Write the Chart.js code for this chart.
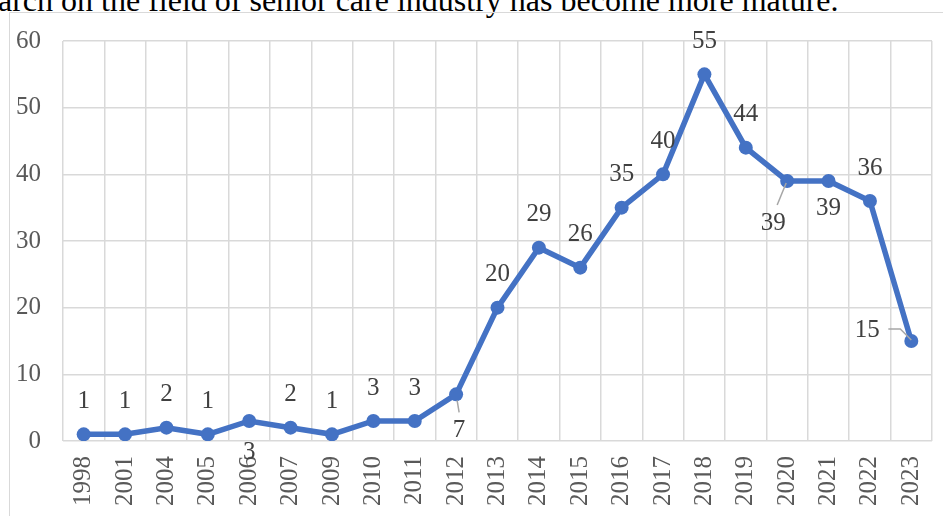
<!DOCTYPE html>
<html>
<head>
<meta charset="utf-8">
<script src="https://cdn.jsdelivr.net/npm/chart.js@4/dist/chart.umd.min.js"></script>
<style>
  html, body { margin: 0; padding: 0; background: #fff; overflow: hidden; }
  body { width: 943px; height: 516px; position: relative; }
  .caption {
    position: absolute; left: -2px; top: -18px; white-space: nowrap; line-height: 32px;
    font: 32px "Liberation Serif", "Times New Roman", serif; color: #000;
  }
  .frame {
    position: absolute; left: 9px; top: 12px; width: 960px; height: 540px;
    border: 1px solid #d9d9d9; box-sizing: border-box;
  }
  #wrap { position: absolute; left: 0; top: 0; width: 943px; height: 516px; }
</style>
</head>
<body>
<div class="caption">arch on the field of senior care industry has become more mature.</div>
<div class="frame"></div>
<div id="wrap"><canvas id="trend"></canvas></div>
<script>
  // Publications per year
  const YEARS = ['1998', '2001', '2004', '2005', '2006', '2007', '2009', '2010', '2011', '2012', '2013',
    '2014', '2015', '2016', '2017', '2018', '2019', '2020', '2021', '2022', '2023'];
  const COUNTS = [1, 1, 2, 1, 3, 2, 1, 3, 3, 7, 20, 29, 26, 35, 40, 55, 44, 39, 39, 36, 15];
  const Y_TICKS = [0, 10, 20, 30, 40, 50, 60];

  const BLUE = '#4472c4';
  const GRID = '#d9d9d9';
  const SERIF = '"Liberation Serif", "Times New Roman", serif';

  // label placement tweaks (dx, dy from the marker), default is above
  const LABEL_POS = {
    '2006': [0, 31],
    '2012': [3, 36],
    '2020': [-14, 42],
    '2021': [0, 27],
    '2023': [-44, -11],
  };
  // leader lines, as offsets from the marker
  const LEADERS = {
    '2012': [[1, 6], [3, 18]],
    '2020': [[-1, 2], [-10, 24]],
    '2023': [[-23, -12], [-11, -12], [0, -1]],
  };

  const valueLabels = {
    id: 'valueLabels',
    afterDatasetsDraw(chart) {
      const ctx = chart.ctx;
      const meta = chart.getDatasetMeta(0);
      ctx.save();
      meta.data.forEach((pt, i) => {
        const year = YEARS[i];
        const lead = LEADERS[year];
        if (lead) {
          ctx.beginPath();
          ctx.strokeStyle = '#a6a6a6';
          ctx.lineWidth = 1.5;
          lead.forEach(([dx, dy], k) => {
            if (k === 0) ctx.moveTo(pt.x + dx, pt.y + dy);
            else ctx.lineTo(pt.x + dx, pt.y + dy);
          });
          ctx.stroke();
        }
        const [dx, dy] = LABEL_POS[year] || [0, -33];
        ctx.font = '25px ' + SERIF;
        ctx.fillStyle = '#404040';
        ctx.textAlign = 'center';
        ctx.textBaseline = 'middle';
        ctx.fillText(String(COUNTS[i]), pt.x + dx, pt.y + dy);
      });
      ctx.restore();
    },
  };

  new Chart(document.getElementById('trend'), {
    type: 'line',
    data: {
      labels: YEARS,
      datasets: [{
        data: COUNTS,
        borderColor: BLUE,
        backgroundColor: BLUE,
        borderWidth: 5.5,
        pointRadius: 7,
        pointBorderWidth: 0,
        tension: 0,
      }],
    },
    options: {
      responsive: true,
      maintainAspectRatio: false,
      animation: false,
      layout: { padding: { top: 41, right: 11, left: 0, bottom: 0 } },
      plugins: { legend: { display: false }, tooltip: { enabled: false } },
      scales: {
        x: {
          offset: true,
          grid: { offset: true, color: GRID, lineWidth: 1.5, drawTicks: false },
          border: { display: false },
          ticks: {
            color: '#595959', font: { family: SERIF, size: 25 },
            minRotation: 90, maxRotation: 90, padding: 15, autoSkip: false,
          },
          afterFit: s => { s.height = 75; s.paddingLeft = 0; s.paddingRight = 0; },
        },
        y: {
          min: 0, max: 60,
          afterBuildTicks: s => { s.ticks = Y_TICKS.map(v => ({ value: v })); },
          grid: { color: GRID, lineWidth: 1.5, drawTicks: false },
          border: { display: false },
          ticks: { color: '#595959', font: { family: SERIF, size: 25 }, padding: 22 },
          afterFit: s => { s.width = 63; s.paddingTop = 0; s.paddingBottom = 0; },
        },
      },
    },
    plugins: [valueLabels],
  });
</script>
</body>
</html>
